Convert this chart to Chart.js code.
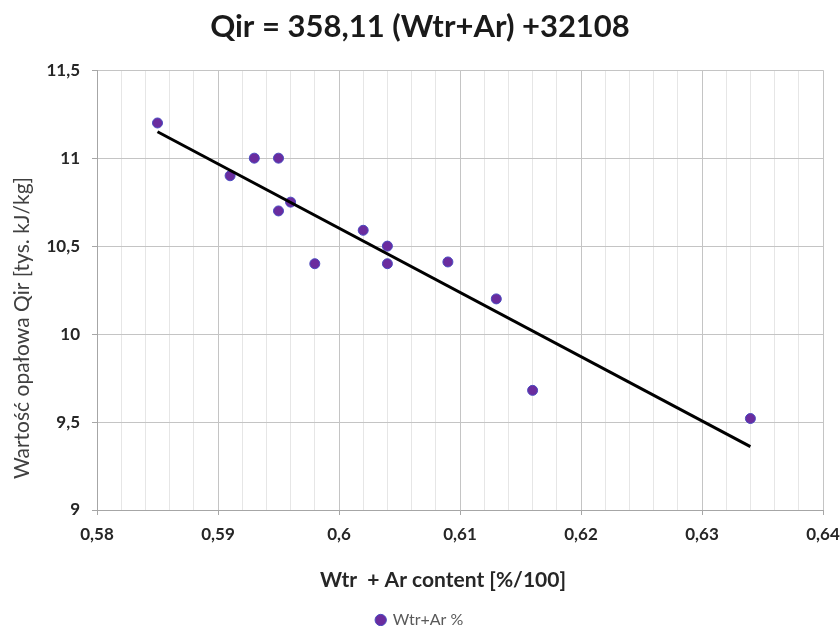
<!DOCTYPE html>
<html>
<head>
<meta charset="utf-8">
<script src="https://cdn.jsdelivr.net/npm/chart.js@4/dist/chart.umd.min.js"></script>
<style>
  body { margin: 0; background: #fff; }
  #chart-container { width: 840px; height: 626px; }
</style>
</head>
<body>
<div id="chart-container"><canvas id="mycanvas" width="840" height="626"></canvas></div>
<script>
// values
var wtrAr = [0.585, 0.591, 0.593, 0.595, 0.595, 0.596, 0.598, 0.602, 0.604, 0.604, 0.609, 0.613, 0.616, 0.634];
var qir   = [11.2, 10.9, 11.0, 11.0, 10.7, 10.75, 10.4, 10.59, 10.5, 10.4, 10.41, 10.2, 9.68, 9.52];
var trendX = [0.585, 0.634];
var trendY = [11.15, 9.36];

var chartTitle = 'Qir = 358,11 (Wtr+Ar) +32108';
var xTitle = 'Wtr  + Ar content [%/100]';
var yTitle = 'Wartość opałowa Qir [tys. kJ/kg]';
var seriesLabel = 'Wtr+Ar %';

var pts = [];
for (var i = 0; i < wtrAr.length; i++) {
    pts.push({ x: wtrAr[i], y: qir[i] });
}
var trend = [];
for (i = 0; i < trendX.length; i++) {
    trend.push({ x: trendX[i], y: trendY[i] });
}

var isMajor = function(v) {
    return Math.abs(v * 100 - Math.round(v * 100)) < 1e-6;
};
var comma = function(v) {
    return String(v).replace('.', ',');
};

// axis titles drawn by hand, their spots are not centred on the plot
var axisTitles = {
    id: 'axisTitles',
    afterDraw: function(chart) {
        var ctx = chart.ctx;
        ctx.save();
        ctx.fillStyle = '#262626';
        ctx.font = 'bold 21px Lato';
        ctx.textAlign = 'center';
        ctx.textBaseline = 'middle';
        ctx.fillText(xTitle, 443, 580);
        ctx.translate(22, 328);
        ctx.rotate(-Math.PI / 2);
        ctx.fillStyle = '#404040';
        ctx.font = '21px Lato';
        ctx.fillText(yTitle, 0, 0);
        ctx.restore();
    }
};

var ctx = document.getElementById('mycanvas');
var chart = new Chart(ctx, {
    type: 'scatter',
    data: {
        datasets: [
            {
                label: seriesLabel,
                data: pts,
                backgroundColor: '#6a2c9e',
                borderColor: '#4a4ac0',
                borderWidth: 1,
                pointRadius: 5,
                pointHoverRadius: 5,
                order: 2
            },
            {
                label: 'trend',
                type: 'line',
                data: trend,
                borderColor: '#000',
                borderWidth: 3,
                pointRadius: 0,
                fill: false,
                order: 1
            }
        ]
    },
    options: {
        responsive: false,
        animation: false,
        devicePixelRatio: 1,
        layout: { padding: { left: 0, right: 0, top: 0, bottom: -12 } },
        plugins: {
            title: {
                display: true,
                text: chartTitle,
                color: '#1a1a1a',
                font: { family: 'Lato', size: 31, weight: 'bold' },
                padding: { top: 8, bottom: 25 }
            },
            legend: {
                position: 'bottom',
                labels: {
                    filter: function(item) { return item.text !== 'trend'; },
                    usePointStyle: true,
                    pointStyle: 'circle',
                    boxWidth: 8,
                    boxHeight: 8,
                    padding: 6,
                    color: '#595959',
                    font: { family: 'Lato', size: 16 }
                }
            },
            tooltip: { enabled: false }
        },
        scales: {
            x: {
                type: 'linear',
                min: 0.58,
                max: 0.64,
                afterFit: function(scale) {
                    scale.height = 96;
                    scale.paddingLeft = 0;
                    scale.paddingRight = 17;
                },
                border: { color: '#a6a6a6', width: 1 },
                grid: {
                    color: function(c) { return isMajor(c.tick.value) ? '#c4c4c4' : '#e6e6e6'; },
                    tickColor: function(c) { return isMajor(c.tick.value) ? '#a6a6a6' : 'rgba(0,0,0,0)'; },
                    tickLength: 5
                },
                ticks: {
                    stepSize: 0.002,
                    autoSkip: false,
                    maxRotation: 0,
                    color: '#262626',
                    font: { family: 'Lato', size: 17, weight: 'bold' },
                    padding: 9,
                    callback: function(v) {
                        return isMajor(v) ? comma(Math.round(v * 100) / 100) : '';
                    }
                }
            },
            y: {
                min: 9,
                max: 11.5,
                afterFit: function(scale) { scale.width = 97; },
                border: { color: '#a6a6a6', width: 1 },
                grid: { color: '#c4c4c4', tickColor: '#a6a6a6', tickLength: 5 },
                ticks: {
                    stepSize: 0.5,
                    color: '#262626',
                    font: { family: 'Lato', size: 17, weight: 'bold' },
                    padding: 12,
                    callback: function(v) { return comma(v); }
                }
            }
        }
    },
    plugins: [axisTitles]
});
</script>
</body>
</html>
